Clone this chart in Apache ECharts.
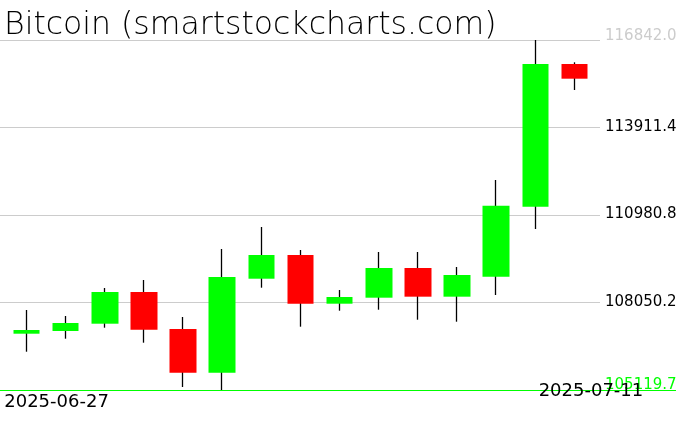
<!DOCTYPE html>
<html><head><meta charset="utf-8">
<script src="https://cdn.jsdelivr.net/npm/echarts@6/dist/echarts.min.js"></script>
<style>html,body{margin:0;padding:0;background:#fff}#c{width:676px;height:431px}</style>
</head><body><div id="c"></div>
<script>
const titleText = 'Bitcoin (smartstockcharts.com)';
const dates = ['2025-06-27','2025-06-28','2025-06-29','2025-06-30','2025-07-01','2025-07-02','2025-07-03','2025-07-04','2025-07-05','2025-07-06','2025-07-07','2025-07-08','2025-07-09','2025-07-10','2025-07-11'];
const opens  = [107005, 107096, 107340, 108402, 107163, 105699, 108847, 109641, 108010, 108211, 109206, 108245, 108914, 111259, 116038];
const closes = [107129, 107364, 108402, 107139, 105699, 108904, 109641, 108010, 108235, 109206, 108245, 108971, 111292, 116038, 115546];
const lows   = [106402, 106838, 107206, 106704, 105220, 105119.66, 108546, 107240, 107776, 107809, 107474, 107407, 108301, 110512, 115167];
const highs  = [107799, 107598, 108536, 108804, 107565, 109842, 110579, 109809, 108469, 109742, 109742, 109239, 112153, 116841.98, 116095];
const yTicks = [105119.66, 108050.24, 110980.82, 113911.40, 116841.98];

const yMin = yTicks[0], yMax = yTicks[yTicks.length - 1];
const wickData = dates.map((d, i) => [opens[i], closes[i], lows[i], highs[i]]);
const bodyData = dates.map((d, i) => [opens[i], closes[i], Math.min(opens[i], closes[i]), Math.max(opens[i], closes[i])]);
const FONT = 'DejaVu Sans';
const GREEN = '#00ff00', RED = '#ff0000', GRID = '#cccccc';

const chart = echarts.init(document.getElementById('c'), null, {renderer: 'canvas'});
chart.setOption({
  animation: false,
  backgroundColor: '#ffffff',
  title: {
    text: titleText, left: -1, top: 5,
    textStyle: {fontFamily: FONT, fontSize: 31.5, fontWeight: 200, color: '#000'}
  },
  grid: [
    {left: 7, right: 82, top: 40, bottom: 41, outerBoundsMode: 'none', containLabel: false},
    {left: 0, right: 76, top: 40, bottom: 41, outerBoundsMode: 'none', containLabel: false},
    {left: 0, right: 0, top: 40, bottom: 41, outerBoundsMode: 'none', containLabel: false}
  ],
  xAxis: [
    {
      type: 'category', data: dates, gridIndex: 0, boundaryGap: true,
      axisLine: {show: false}, axisTick: {show: false}, splitLine: {show: false},
      axisLabel: {
        interval: (idx) => idx === 0 || idx === dates.length - 1,
        margin: 5, verticalAlign: 'middle',
        fontFamily: FONT, fontSize: 18, color: '#000',
        formatter: (v, idx) => (idx === 0 ? '{a|' + v + '}' : '{b|' + v + '}'),
        rich: {
          a: {fontFamily: FONT, fontSize: 18, color: '#000', padding: [14, 0, 0, 60]},
          b: {fontFamily: FONT, fontSize: 18, color: '#000', padding: [0, 0, 8, 33]}
        }
      }
    },
    {type: 'value', gridIndex: 1, show: false},
    {
      type: 'value', gridIndex: 2, min: 0, max: 1,
      axisLine: {show: true, onZero: false, lineStyle: {color: GREEN, width: 1}},
      axisTick: {show: false}, axisLabel: {show: false}, splitLine: {show: false}
    }
  ],
  yAxis: [
    {type: 'value', gridIndex: 0, min: yMin, max: yMax, show: false},
    {
      type: 'value', gridIndex: 1, position: 'right', min: yMin, max: yMax,
      axisLine: {show: false},
      axisTick: {show: false, customValues: yTicks},
      splitLine: {show: true, lineStyle: {color: GRID, width: 1}},
      axisLabel: {
        customValues: yTicks, margin: 5, fontFamily: FONT, fontSize: 15,
        formatter: (v) => {
          const s = v.toFixed(1);
          if (Math.abs(v - yMin) < 1e-6) return '{g|' + s + '}';
          if (Math.abs(v - yMax) < 1e-6) return '{l|' + s + '}';
          return '{n|' + s + '}';
        },
        rich: {
          g: {fontFamily: FONT, fontSize: 15, color: GREEN, padding: [0, 0, 10, 0]},
          l: {fontFamily: FONT, fontSize: 15, color: GRID, padding: [0, 0, 8, 0]},
          n: {fontFamily: FONT, fontSize: 15, color: '#000', padding: [0, 0, 1, 0]}
        }
      }
    },
    {type: 'value', gridIndex: 2, min: 0, max: 1, show: false}
  ],
  series: [
    {
      type: 'candlestick', name: 'wick', xAxisIndex: 0, yAxisIndex: 0,
      data: wickData, barWidth: 1,
      itemStyle: {color: '#000', color0: '#000', borderColor: '#000', borderColor0: '#000', borderWidth: 1.3}
    },
    {
      type: 'candlestick', name: 'body', xAxisIndex: 0, yAxisIndex: 0,
      data: bodyData, barWidth: 27, z: 3,
      itemStyle: {color: GREEN, color0: RED, borderColor: GREEN, borderColor0: RED, borderWidth: 0}
    }
  ]
});
</script>
</body></html>
